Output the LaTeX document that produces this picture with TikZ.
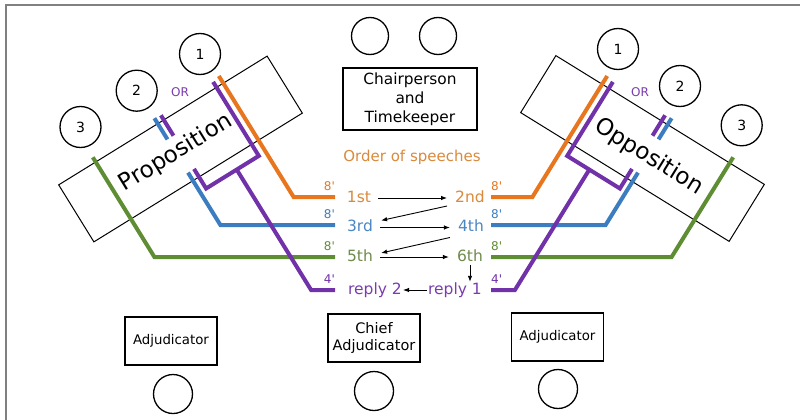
\documentclass[tikz,border=0pt]{standalone}
\usepackage{fontspec}
\setmainfont{DejaVu Sans}
\usetikzlibrary{calc,arrows.meta}

\definecolor{lnOrange}{HTML}{E8761E}
\definecolor{lnBlue}{HTML}{3B7DC0}
\definecolor{lnGreen}{HTML}{5F8D33}
\definecolor{lnPurple}{HTML}{7131A8}
\definecolor{txOrange}{HTML}{D98A3C}
\definecolor{txBlue}{HTML}{4C87C2}
\definecolor{txGreen}{HTML}{6F8C4E}
\definecolor{txPurple}{HTML}{7A3CB0}
\definecolor{frameGray}{HTML}{808080}

% coloured speaking lanes of one bench (coordinates of the left bench)
\newcommand\benchlanes{%
  \coordinate (or-top)  at (218.8,76.0);
  \coordinate (or-bend) at (293.6,197);
  \coordinate (or-end)  at (335,197);
  \coordinate (pu-top)  at (213.1,81.9);
  \coordinate (pu-a)    at (258.8,155.9);
  \coordinate (pu-b)    at (206.1,188.5);
  \coordinate (pu-stub) at (194.0,168.9);
  \coordinate (pu-fork) at (236.7,169.6);
  \coordinate (pu-bend) at (311.1,290);
  \coordinate (pu-end)  at (335,290);
  \coordinate (pu-t1)   at (160.9,115.3);
  \coordinate (pu-t2)   at (173.5,135.7);
  \coordinate (bl-t1)   at (154.4,118.2);
  \coordinate (bl-t2)   at (167.5,139.4);
  \coordinate (bl-top)  at (188.0,172.6);
  \coordinate (bl-bend) at (220.4,225);
  \coordinate (bl-end)  at (335,225);
  \coordinate (gr-top)  at (92.8,157.3);
  \coordinate (gr-bend) at (154.4,257);
  \coordinate (gr-end)  at (335,257);
  \draw[lane=lnGreen]  (gr-top) -- (gr-bend) -- (gr-end);
  \draw[lane=lnBlue]   (bl-t1) -- (bl-t2);
  \draw[lane=lnBlue]   (bl-top) -- (bl-bend) -- (bl-end);
  \draw[lane=lnOrange] (or-top) -- (or-bend) -- (or-end);
  \draw[lane=lnPurple] (pu-t1) -- (pu-t2);
  \draw[lane=lnPurple] (pu-top) -- (pu-a) -- (pu-b) -- (pu-stub);
  \draw[lane=lnPurple] (pu-fork) -- (pu-bend) -- (pu-end);
}

\begin{document}
\begin{tikzpicture}[x=1pt,y=-1pt,
  lane/.style={draw=#1, line width=4pt},
  bench/.style={draw, line width=1pt, minimum width=245pt, minimum height=67pt, inner sep=0pt},
  seat/.style={circle, draw, line width=1.3pt, inner sep=0pt, minimum size=#1},
  seat/.default=41pt,
  numtxt/.style={font=\fontsize{14}{16}\selectfont},
  tbox/.style={draw, line width=1.2pt, align=center, inner sep=0pt},
  spk/.style={font=\fontsize{15.5}{18}\selectfont, inner sep=1pt, text height=11pt, text depth=3pt},
  dur/.style={font=\fontsize{12}{14}\selectfont, inner sep=0pt},
  arr/.style={-{Latex[length=6pt,width=4.5pt]}, line width=0.9pt},
]
\useasboundingbox (0,0) rectangle (800,420);
\fill[white] (0,0) rectangle (800,420);
\draw[frameGray, line width=2pt] (5.5,420) -- (5.5,5.5) -- (800,5.5);

% benches
\node[bench, rotate=31.7]  (prop) at (180.5,149) {};
\node[bench, rotate=-31.7] (opp)  at (642.5,148.5) {};
\node[rotate=31.7,  font=\fontsize{23}{26}\selectfont] (proptxt) at (175.9,153) {Proposition};
\node[rotate=-31.7, font=\fontsize{23}{26}\selectfont] (opptxt)  at (649,157) {Opposition};

\begin{scope}[name prefix=pro-]
  \benchlanes
\end{scope}
\begin{scope}[name prefix=opp-, xshift=826pt, xscale=-1]
  \benchlanes
\end{scope}

% speaker seats
\node[seat, numtxt] (p1) at (200,54)   {1};
\node[seat, numtxt] (p2) at (136.7,90.7) {2};
\node[seat, numtxt] (p3) at (80.5,127) {3};
\node[seat, numtxt] (o1) at (618,49)   {1};
\node[seat, numtxt] (o2) at (680,86)   {2};
\node[seat, numtxt] (o3) at (741.7,125.3) {3};
\node[dur, text=txPurple] (por) at (180,92) {OR};
\node[dur, text=txPurple] (oor) at (640,92) {OR};

% chair and timekeeper
\node[seat=37pt] (c1) at (370,36) {};
\node[seat=37pt] (c2) at (438,36) {};
\node[tbox, minimum width=134pt, minimum height=62pt, font=\fontsize{15.4}{19}\selectfont] (chair) at (410,99) {Chairperson\\and\\Timekeeper};

% order of speeches
\node[font=\fontsize{15}{18}\selectfont, text=txOrange] (order) at (412,157) {Order of speeches};
\node[spk, text=txOrange] (s1) at (359,198) {1st};
\node[spk, text=txOrange] (s2) at (470,198) {2nd};
\node[spk, text=txBlue]   (s3) at (360,227.5) {3rd};
\node[spk, text=txBlue]   (s4) at (471,227.5) {4th};
\node[spk, text=txGreen]  (s5) at (360,257) {5th};
\node[spk, text=txGreen]  (s6) at (470,257) {6th};
\node[spk, text=txPurple] (r2) at (375,290) {reply 2};
\node[spk, text=txPurple] (r1) at (455,290) {reply 1};

\draw[arr, shorten <=6pt, shorten >=7pt] (s1) -- (s2);
\draw[arr, shorten <=6pt, shorten >=7pt] (s3) -- (s4);
\draw[arr, shorten <=6pt, shorten >=7pt] (s5) -- (s6);
\draw[arr] ($(s2.west)+(-7,8)$) -- ($(s3.east)+(7,-7)$);
\draw[arr] ($(s4.west)+(-7,10)$) -- ($(s5.east)+(7,-4)$);
\draw[arr] (s6.south) -- (s6.south |- r1.north);
\draw[arr] (r1) -- (r2);

% speaking times
\node[dur, anchor=base east, text=lnOrange] at ($(pro-or-end)+(0,-7)$) {8\textquotesingle};
\node[dur, anchor=base east, text=lnBlue]   at ($(pro-bl-end)+(0,-7)$) {8\textquotesingle};
\node[dur, anchor=base east, text=lnGreen]  at ($(pro-gr-end)+(0,-7)$) {8\textquotesingle};
\node[dur, anchor=base east, text=lnPurple] at ($(pro-pu-end)+(0,-7)$) {4\textquotesingle};
\node[dur, anchor=base west, text=lnOrange] at ($(opp-or-end)+(0,-7)$) {8\textquotesingle};
\node[dur, anchor=base west, text=lnBlue]   at ($(opp-bl-end)+(0,-7)$) {8\textquotesingle};
\node[dur, anchor=base west, text=lnGreen]  at ($(opp-gr-end)+(0,-7)$) {8\textquotesingle};
\node[dur, anchor=base west, text=lnPurple] at ($(opp-pu-end)+(0,-7)$) {4\textquotesingle};

% adjudicators
\node[tbox, minimum width=92pt, minimum height=48pt, font=\fontsize{13.3}{16}\selectfont] (adjl) at (171,341) {Adjudicator};
\node[tbox, minimum width=92pt, minimum height=48pt, font=\fontsize{14.5}{17}\selectfont] (adjc) at (374,338) {Chief\\Adjudicator};
\node[tbox, minimum width=92pt, minimum height=48pt, font=\fontsize{13.3}{16}\selectfont] (adjr) at (557.5,337) {Adjudicator};
\node[seat=39pt] (al) at (173,394) {};
\node[seat=39pt] (ac) at (374,391) {};
\node[seat=39pt] (ar) at (558,389) {};
\end{tikzpicture}
\end{document}
